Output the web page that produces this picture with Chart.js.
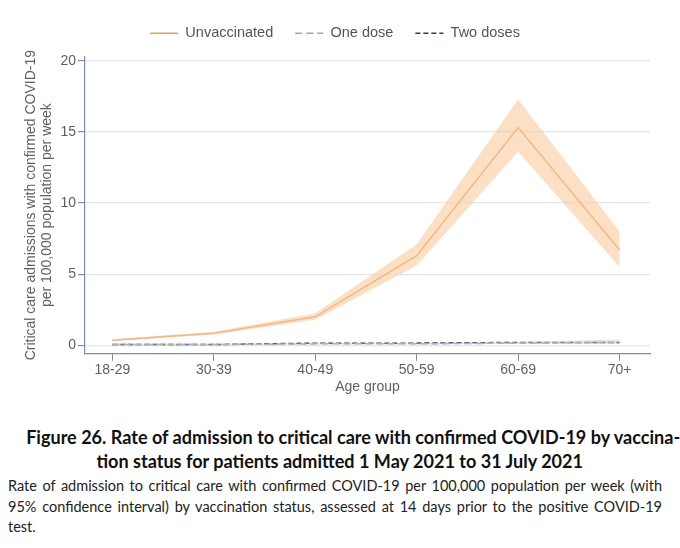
<!DOCTYPE html>
<html>
<head>
<meta charset="utf-8">
<script src="https://cdn.jsdelivr.net/npm/chart.js@4/dist/chart.umd.min.js"></script>
<style>
  body { margin: 0; background: #fff; width: 680px; height: 548px; overflow: hidden; }
  #wrap { position: relative; width: 680px; height: 400px; }
  .title { position: absolute; left: 0; width: 680px; text-align: center; white-space: nowrap;
           font-family: Lato, "Open Sans", sans-serif; font-weight: bold; font-size: 19.5px; color: #111; }
  .title span { display: inline-block; transform-origin: center; }
  .body { position: absolute; left: 8px; width: 654px; font-family: Lato, "Open Sans", sans-serif;
          font-size: 14.5px; color: #222; }
  .just { text-align: justify; text-align-last: justify; }
</style>
</head>
<body>
<div id="wrap"><canvas id="myChart" width="680" height="400"></canvas></div>
<div class="title" style="top:425px;"><span id="t1">Figure 26. Rate of admission to critical care with confirmed COVID-19 by vaccina-</span></div>
<div class="title" style="top:449px;"><span id="t2">tion status for patients admitted 1 May 2021 to 31 July 2021</span></div>
<div class="body just" style="top:477px;">Rate of admission to critical care with confirmed COVID-19 per 100,000 population per week (with</div>
<div class="body just" style="top:498px;">95% confidence interval) by vaccination status, assessed at 14 days prior to the positive COVID-19</div>
<div class="body" style="top:518px;">test.</div>
<script>
const ageGroups = ["18-29", "30-39", "40-49", "50-59", "60-69", "70+"];

const unvaccinated = [0.35, 0.85, 2.0, 6.3, 15.3, 6.7];
const unvaccinatedLow = [0.3, 0.75, 1.8, 5.6, 13.6, 5.5];
const unvaccinatedHigh = [0.42, 0.95, 2.25, 7.1, 17.3, 8.0];

const oneDose = [0.05, 0.05, 0.1, 0.1, 0.15, 0.2];
const oneDoseLow = [0.0, 0.0, 0.05, 0.05, 0.1, 0.1];
const oneDoseHigh = [0.1, 0.1, 0.15, 0.15, 0.25, 0.4];

const twoDoses = [0.05, 0.05, 0.15, 0.15, 0.2, 0.2];

const yTicks = [0, 5, 10, 15, 20];

const axisColor = "#7d8ca8";
const textColor = "#5f5f5f";
const axisFont = "Liberation Sans, Arial, sans-serif";

// squeeze the caption title to the width of the original (narrow font there)
const t1 = document.getElementById("t1");
const squeeze = 654 / t1.getBoundingClientRect().width;
t1.style.transform = `scaleX(${squeeze})`;
document.getElementById("t2").style.transform = `scaleX(${squeeze})`;

const pts = (arr) => arr.map((v, i) => ({ x: i, y: v }));

const lineSeries = [
  { label: "Unvaccinated", color: "#ef9a55", dash: [] },
  { label: "One dose", color: "#a3a3a3", dash: [7, 4] },
  { label: "Two doses", color: "#2e3b63", dash: [5, 3] },
];

const ctx = document.getElementById("myChart");
new Chart(ctx, {
  type: "line",
  data: {
    datasets: [
      // confidence bands
      { data: pts(unvaccinatedLow), borderWidth: 0, pointRadius: 0, fill: false },
      { data: pts(unvaccinatedHigh), borderWidth: 0, pointRadius: 0, fill: "-1",
        backgroundColor: "rgba(248, 204, 160, 0.6)" },
      { data: pts(oneDoseLow), borderWidth: 0, pointRadius: 0, fill: false },
      { data: pts(oneDoseHigh), borderWidth: 0, pointRadius: 0, fill: "-1",
        backgroundColor: "rgba(200, 200, 200, 0.45)" },
      // lines
      { label: "Unvaccinated", data: pts(unvaccinated), borderColor: lineSeries[0].color,
        borderWidth: 1.5, pointRadius: 0, fill: false },
      { label: "One dose", data: pts(oneDose), borderColor: lineSeries[1].color,
        borderWidth: 1.5, borderDash: lineSeries[1].dash, pointRadius: 0, fill: false },
      { label: "Two doses", data: pts(twoDoses), borderColor: lineSeries[2].color,
        borderWidth: 1.5, borderDash: lineSeries[2].dash, pointRadius: 0, fill: false },
    ],
  },
  options: {
    animation: false,
    responsive: false,
    layout: { padding: { left: 20, right: 30, top: 4, bottom: 5 } },
    plugins: {
      tooltip: { enabled: false },
      // empty title used only as a gap between legend and plot
      title: {
        display: true,
        text: "",
        font: { size: 1, lineHeight: 1 },
        padding: { top: 0, bottom: 5 },
      },
      legend: {
        position: "top",
        weight: 3000,
        labels: {
          usePointStyle: true,
          pointStyleWidth: 28,
          padding: 22,
          color: "#555",
          font: { family: axisFont, size: 14.5 },
          generateLabels: () =>
            lineSeries.map((s, i) => ({
              text: s.label,
              strokeStyle: s.color,
              fillStyle: s.color,
              fontColor: "#555",
              lineWidth: 1.5,
              lineDash: s.dash,
              pointStyle: "line",
              hidden: false,
              datasetIndex: 4 + i,
            })),
        },
      },
    },
    scales: {
      x: {
        type: "linear",
        min: -0.27,
        max: 5.3,
        afterBuildTicks: (scale) => {
          scale.ticks = ageGroups.map((_, i) => ({ value: i }));
        },
        ticks: {
          color: textColor,
          font: { family: axisFont, size: 14 },
          padding: 1,
          callback: (v) => ageGroups[v] ?? "",
          maxRotation: 0,
        },
        grid: { drawOnChartArea: false, tickColor: axisColor, tickLength: 7 },
        border: { color: axisColor, width: 1.2 },
        title: {
          display: true,
          text: "Age group",
          color: textColor,
          font: { family: axisFont, size: 14, lineHeight: 1.1 },
          padding: { top: 0, bottom: 0 },
        },
      },
      y: {
        min: -0.6,
        max: 20.3,
        afterBuildTicks: (scale) => {
          scale.ticks = yTicks.map((v) => ({ value: v }));
        },
        afterFit: (scale) => {
          scale.width = 65;
        },
        ticks: {
          color: textColor,
          font: { family: axisFont, size: 14 },
          padding: 2,
        },
        grid: { color: "#e6e6e6", tickColor: axisColor, tickLength: 7, lineWidth: 1.2 },
        border: { color: axisColor, width: 1.2 },
        title: {
          display: true,
          text: ["Critical care admissions with confirmed COVID-19", "per 100,000 population per week"],
          color: textColor,
          font: { family: axisFont, size: 14, lineHeight: 1.15 },
          padding: { top: 3, bottom: 0 },
        },
      },
    },
  },
});
</script>
</body>
</html>
